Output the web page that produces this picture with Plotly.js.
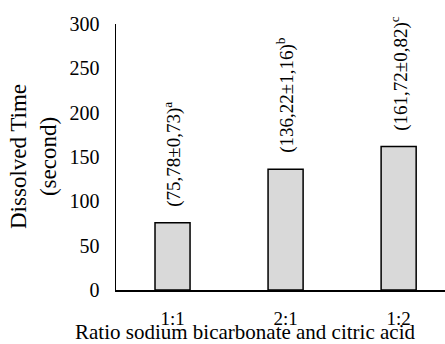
<!DOCTYPE html>
<html>
<head>
<meta charset="utf-8">
<script src="https://cdn.plot.ly/plotly-3.0.1.min.js"></script>
<style>html,body{margin:0;padding:0;background:#fff;}#chart{width:445px;height:344px;}</style>
</head>
<body>
<div id="chart"></div>
<script>
const categories = ["1:1", "2:1", "1:2"];
const values = [75.78, 136.22, 161.72];
const labels = ["(75,78±0,73)<sup>a</sup>", "(136,22±1,16)<sup>b</sup>", "(161,72±0,82)<sup>c</sup>"];
const yTicks = [0, 50, 100, 150, 200, 250, 300];
const xTitle = "Ratio sodium bicarbonate and citric acid";
const yTitle = "Dissolved Time<br>(second)";

const font = "'Liberation Serif', 'Times New Roman', 'DejaVu Serif', serif";

const trace = {
  type: "bar",
  x: [0, 1, 2],
  y: values,
  width: 0.31,
  marker: {color: "#d9d9d9", line: {color: "#000", width: 1.5}},
  hoverinfo: "none"
};

const annotations = values.map((v, i) => ({
  x: i, y: v, xref: "x", yref: "y",
  text: labels[i], showarrow: false, textangle: -90,
  xanchor: "center", yanchor: "bottom", yshift: 14,
  font: {family: font, size: 19, color: "#000"}
}));

annotations.push({
  x: 0.393, y: 0, xref: "paper", yref: "paper",
  text: xTitle, showarrow: false,
  xanchor: "center", yanchor: "middle", yshift: -42,
  font: {family: font, size: 21, color: "#000"}
});
annotations.push({
  x: 0, y: 0.5, xref: "paper", yref: "paper",
  text: yTitle, showarrow: false, textangle: -90,
  xanchor: "center", yanchor: "middle", xshift: -83,
  font: {family: font, size: 23, color: "#000"}
});

const layout = {
  width: 445, height: 344,
  margin: {l: 116, r: 0, t: 24, b: 54},
  paper_bgcolor: "#fff", plot_bgcolor: "#fff",
  showlegend: false,
  font: {family: font, size: 19, color: "#000"},
  xaxis: {
    range: [-0.5, 2.41],
    tickvals: [0, 1, 2], ticktext: categories,
    showline: true, linecolor: "#000", linewidth: 1.5,
    showgrid: false, zeroline: false, ticks: "",
    ticklabelstandoff: 11,
    tickfont: {family: font, size: 19}
  },
  yaxis: {
    range: [0, 300], tickvals: yTicks,
    showline: true, linecolor: "#000", linewidth: 1.5,
    showgrid: false, zeroline: false, ticks: "",
    ticklabelstandoff: 11,
    tickfont: {family: font, size: 20}
  },
  annotations: annotations
};

Plotly.newPlot("chart", [trace], layout, {displayModeBar: false, staticPlot: true});
</script>
</body>
</html>
